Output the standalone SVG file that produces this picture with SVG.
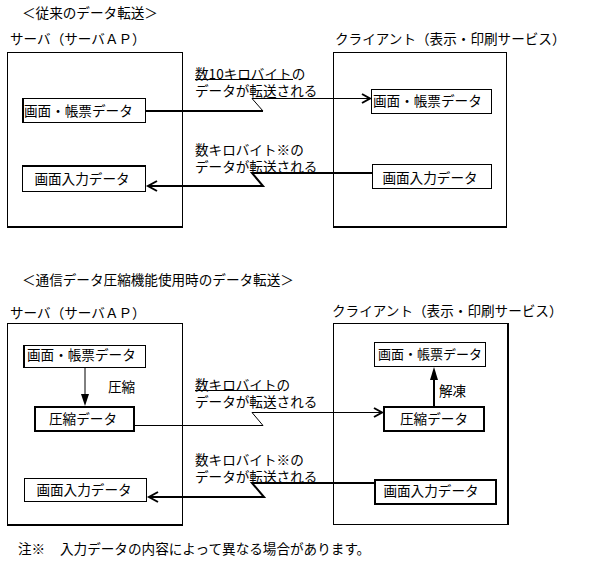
<svg xmlns="http://www.w3.org/2000/svg" width="591" height="572" viewBox="0 0 591 572">
<style>
text{font-family:"Noto Sans CJK JP","Noto Sans",sans-serif;font-size:13.6px;fill:#000}
.c{text-anchor:middle}
.s{font-size:13px}
.box{fill:#fff;stroke:#000;stroke-width:1}
.tb{fill:#fff;stroke:#000;stroke-width:2}
.thin{fill:none;stroke:#000;stroke-width:1}
.thick{fill:none;stroke:#000;stroke-width:2}
.head{fill:none;stroke:#000;stroke-width:2}
.fill{fill:#000;stroke:none}
</style>
<rect width="591" height="572" fill="#fff"/>

<!-- Section 1 -->
<text x="22" y="18">＜従来のデータ転送＞</text>
<g id="server1">
  <text x="10" y="44">サーバ（サーバＡＰ）</text>
  <rect class="box" x="7.5" y="52.5" width="175" height="174"/>
  <line class="thick" x1="7" y1="227" x2="183" y2="227"/>
</g>
<g id="client1">
  <text x="335" y="44">クライアント（表示・印刷サービス）</text>
  <rect class="box" x="333.5" y="52.5" width="173" height="174"/>
  <line class="thick" x1="333" y1="227" x2="507" y2="227"/>
</g>
<g id="s1_screen">
  <rect class="box" x="22.5" y="98.5" width="123" height="24"/>
  <line class="thick" x1="23" y1="98" x2="23" y2="123"/>
  <text x="24" y="115.5">画面・帳票データ</text>
</g>
<g id="s1_input">
  <rect class="box" x="22.5" y="165.5" width="123" height="26"/>
  <line class="thick" x1="22" y1="166" x2="146" y2="166"/>
  <text class="c" x="82" y="184">画面入力データ</text>
</g>
<g id="c1_screen">
  <rect class="box" x="371.5" y="89.5" width="120" height="24"/>
  <text x="373" y="106">画面・帳票データ</text>
</g>
<g id="c1_input">
  <rect class="box" x="372.5" y="164.5" width="119" height="24"/>
  <text class="c" x="430" y="183">画面入力データ</text>
</g>
<g id="label1">
  <text x="195" y="79">数10キロバイトの</text>
  <line class="thin" x1="195" y1="79.5" x2="293" y2="79.5"/>
  <text x="195" y="96">データが転送される</text>
</g>
<g id="label2">
  <text x="195" y="155">数キロバイト※の</text>
  <text x="195" y="172">データが転送される</text>
</g>

<!-- Section 2 -->
<text x="22" y="285">＜通信データ圧縮機能使用時のデータ転送＞</text>
<g id="server2">
  <text x="10" y="318">サーバ（サーバＡＰ）</text>
  <rect class="box" x="7.5" y="323.5" width="175" height="201"/>
  <line class="thick" x1="7" y1="525" x2="183" y2="525"/>
</g>
<g id="client2">
  <text x="332" y="316">クライアント（表示・印刷サービス）</text>
  <rect class="box" x="333.5" y="323.5" width="175" height="201"/>
  <line class="thick" x1="508" y1="323" x2="508" y2="525"/>
</g>
<g id="s2_screen">
  <rect class="box" x="23.5" y="345.5" width="122" height="22"/>
  <line class="thick" x1="24" y1="345" x2="24" y2="368"/>
  <text x="27" y="360">画面・帳票データ</text>
</g>
<g id="s2_comp">
  <rect class="tb" x="35" y="407" width="99" height="24"/>
  <text class="c" x="83" y="423.5">圧縮データ</text>
</g>
<g id="s2_input">
  <rect class="box" x="24.5" y="478.5" width="122" height="23"/>
  <text class="c" x="84" y="495">画面入力データ</text>
</g>
<g id="c2_screen">
  <rect class="box" x="374.5" y="342.5" width="111" height="24"/>
  <text class="c s" x="430" y="359">画面・帳票データ</text>
</g>
<g id="c2_comp">
  <rect class="tb" x="384" y="407" width="100" height="24"/>
  <text class="c" x="434" y="423.5">圧縮データ</text>
</g>
<g id="c2_input">
  <rect class="tb" x="375" y="480" width="121" height="24"/>
  <text class="c" x="431" y="496">画面入力データ</text>
</g>
<g id="label3">
  <text x="108" y="392">圧縮</text>
</g>
<g id="label4">
  <text x="439" y="396">解凍</text>
</g>
<g id="label5">
  <text x="195" y="390">数キロバイトの</text>
  <line class="thin" x1="195" y1="390.5" x2="280" y2="390.5"/>
  <text x="195" y="407">データが転送される</text>
</g>
<g id="label6">
  <text x="195" y="465">数キロバイト※の</text>
  <text x="195" y="482">データが転送される</text>
</g>
<text x="18" y="554">注※</text>
<text x="60" y="554">入力データの内容によって異なる場合があります。</text>

<!-- Connectors -->
<g id="connectors">
  <path class="thick" d="M146,111 H263"/>
  <path class="thin" d="M263,111 L252,98.5 H370"/>
  <path class="head" d="M362,94 L370,98.5 L362,103"/>
  <path class="thick" d="M372,173 H252 L263,186 H148"/>
  <path class="head" d="M157,181 L148,186 L157,191"/>
  <line class="thin" x1="85" y1="368" x2="85" y2="396"/>
  <polygon class="fill" points="81,394 89,394 85,406"/>
  <path class="thin" d="M134,425.5 H263 L252,412.5 H382"/>
  <path class="head" d="M374,408 L382,412.5 L374,417"/>
  <path class="thick" d="M375,483 H252 L264,497 H149"/>
  <path class="head" d="M158,492 L149,497 L158,502"/>
  <line class="thick" x1="434" y1="407" x2="434" y2="378"/>
  <polygon class="fill" points="430,380 438,380 434,367"/>
</g>
</svg>
